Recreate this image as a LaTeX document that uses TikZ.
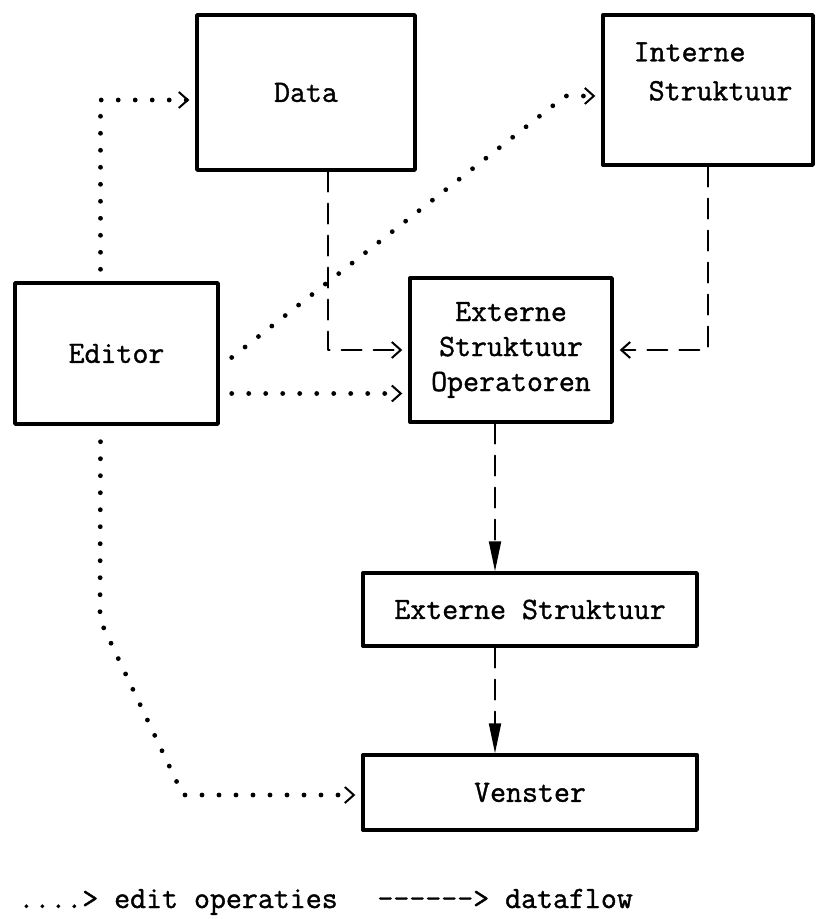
\documentclass[tikz,border=0pt]{standalone}
\usepackage{fontspec}
\setmonofont{Latin Modern Mono}[FakeBold=1.2]
\usetikzlibrary{arrows.meta}

\begin{document}
\begin{tikzpicture}[x=0.5pt, y=-0.5pt, line join=round, line cap=round,
	font=\ttfamily\fontsize{15.5}{17.5}\selectfont,
	hop/.style={draw, line width=1.7pt, inner sep=0pt, align=center},
	editop/.style={line width=2.4pt, dash pattern=on 0pt off 8.5pt,
		-{Straight Barb[length=4.5pt,width=8pt,line width=1pt]}, shorten >=3pt},
	flow/.style={line width=1pt, dash pattern=on 10pt off 6pt,
		-{Straight Barb[length=4.5pt,width=8pt]}, shorten >=3pt},
	flowdown/.style={line width=1pt, dash pattern=on 10pt off 6pt,
		-{Triangle[length=15pt,width=6pt]}}]
	\useasboundingbox (0,0) rectangle (815,919);
	%% Khai bao diem
	\path
	(100,620) coordinate (knik1)
	(183,795) coordinate (knik2)
	(495,0) coordinate (spine)
	;
	%% cac hop
	\node[hop, minimum width=109pt, minimum height=77.5pt] (data) at (306,92.5) {Data};
	\node[hop, minimum width=105pt, minimum height=75pt] (intern) at (708,90) {};
	\node[anchor=base west, inner sep=0pt] (intA) at ([xshift=16pt,yshift=-24pt]intern.north west) {Interne};
	\node[anchor=base west, inner sep=0pt] (intB) at ([xshift=23.5pt,yshift=-43.5pt]intern.north west) {Struktuur};
	\node[hop, minimum width=101.5pt, minimum height=70.5pt] (editor) at (116.5,353.5) {Editor};
	\node[hop, minimum width=101pt, minimum height=72pt] (extop) at (511,350) {Externe\\Struktuur\\Operatoren};
	\node[hop, minimum width=167pt, minimum height=36.5pt] (extstr) at (530,609.5) {Externe Struktuur};
	\node[hop, minimum width=167pt, minimum height=37.5pt] (venster) at (530,792.5) {Venster};
	
	%% edit operaties
	\draw[editop] ([xshift=-8pt,yshift=6pt]editor.north) |- ([yshift=-3.75pt]data.west);
	\draw[editop] ([xshift=6pt,yshift=-2pt]editor.east) -- ([xshift=-18pt,yshift=-3pt]intern.west) -- ([yshift=-3pt]intern.west);
	\draw[editop] ([xshift=6pt,yshift=-20pt]editor.east) -- ([yshift=-20pt]editor.east -| extop.west);
	\draw[editop] ([xshift=-8pt,yshift=-8pt]editor.south) -- (knik1) -- (knik2) -- (knik2 -| venster.west);
	
	%% dataflow
	\draw[flow] ([xshift=11pt]data.south) |- (extop.west);
	\draw[flow] (intern.south) |- (extop.east);
	\foreach \a/\b in {extop/extstr, extstr/venster}
	\draw[flowdown] (\a.south -| spine) -- (\b.north -| spine);
	
	%% legende
	\node[anchor=base west, inner sep=0pt] (legEdit) at (18,908) {....> edit operaties};
	\node[anchor=base west, inner sep=0pt] (legFlow) at (377,908) {------> dataflow};
\end{tikzpicture}
\end{document}
